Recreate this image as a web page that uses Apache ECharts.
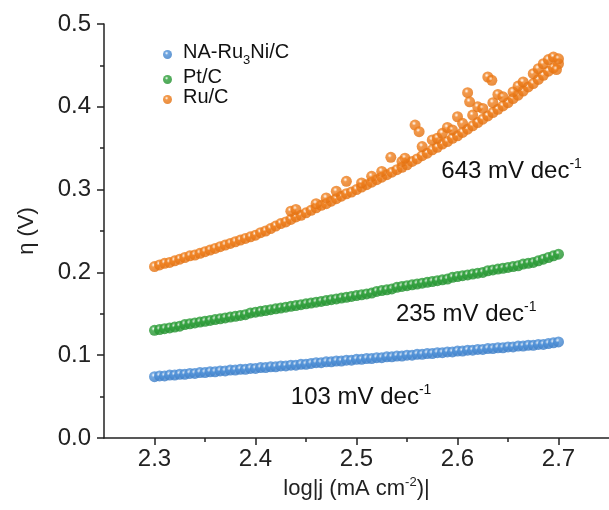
<!DOCTYPE html>
<html>
<head>
<meta charset="utf-8">
<script src="https://cdn.jsdelivr.net/npm/echarts@6/dist/echarts.min.js"></script>
<style>
html,body{margin:0;padding:0;background:#fff;}
#chart{width:609px;height:510px;}
</style>
</head>
<body>
<div id="chart"></div>
<script>
// ---- data ----
var seriesNames = ['NA-Ru3Ni/C', 'Pt/C', 'Ru/C'];
var xTickLabels = [2.3, 2.4, 2.5, 2.6, 2.7];
var xMinorTicks = [2.35, 2.45, 2.55, 2.65];
var slopeLabels = ['643 mV dec', '235 mV dec', '103 mV dec'];

var logJ = [2.300,2.305,2.310,2.315,2.320,2.325,2.330,2.335,2.340,2.345,
            2.350,2.355,2.360,2.365,2.370,2.375,2.380,2.385,2.390,2.395,
            2.400,2.405,2.410,2.415,2.420,2.425,2.430,2.435,2.440,2.445,
            2.450,2.455,2.460,2.465,2.470,2.475,2.480,2.485,2.490,2.495,
            2.500,2.505,2.510,2.515,2.520,2.525,2.530,2.535,2.540,2.545,
            2.550,2.555,2.560,2.565,2.570,2.575,2.580,2.585,2.590,2.595,
            2.600,2.605,2.610,2.615,2.620,2.625,2.630,2.635,2.640,2.645,
            2.650,2.655,2.660,2.665,2.670,2.675,2.680,2.685,2.690,2.695,2.700];

var etaRu3Ni = [0.074,0.075,0.075,0.076,0.076,0.077,0.077,0.078,0.078,0.079,
                0.079,0.080,0.080,0.081,0.081,0.082,0.082,0.083,0.083,0.084,
                0.084,0.085,0.085,0.086,0.086,0.087,0.087,0.088,0.088,0.089,
                0.089,0.090,0.091,0.091,0.092,0.092,0.093,0.093,0.094,0.094,
                0.095,0.095,0.096,0.096,0.097,0.097,0.098,0.098,0.099,0.099,
                0.100,0.100,0.101,0.101,0.102,0.102,0.103,0.103,0.104,0.104,
                0.105,0.105,0.106,0.106,0.107,0.107,0.108,0.108,0.109,0.109,
                0.110,0.110,0.111,0.111,0.112,0.112,0.113,0.113,0.114,0.115,0.116];

var etaPt = [0.130,0.131,0.132,0.133,0.134,0.135,0.137,0.138,0.139,0.140,
             0.141,0.142,0.143,0.144,0.145,0.146,0.147,0.148,0.149,0.151,
             0.152,0.153,0.154,0.155,0.156,0.157,0.158,0.159,0.160,0.161,
             0.162,0.163,0.164,0.165,0.166,0.167,0.168,0.169,0.170,0.171,
             0.172,0.173,0.174,0.175,0.177,0.178,0.179,0.180,0.182,0.183,
             0.184,0.185,0.186,0.187,0.188,0.189,0.190,0.191,0.192,0.194,
             0.195,0.196,0.197,0.198,0.199,0.200,0.202,0.203,0.204,0.205,
             0.206,0.207,0.208,0.210,0.211,0.212,0.214,0.216,0.218,0.220,0.222];

var etaRu = [0.207,0.209,0.211,0.212,0.214,0.216,0.218,0.220,0.221,0.223,
             0.225,0.227,0.229,0.231,0.233,0.235,0.237,0.239,0.241,0.243,
             0.245,0.248,0.250,0.253,0.256,0.259,0.261,0.264,0.267,0.269,
             0.272,0.275,0.278,0.281,0.283,0.286,0.289,0.292,0.295,0.297,
             0.300,0.303,0.306,0.309,0.312,0.315,0.318,0.321,0.324,0.327,
             0.330,0.334,0.337,0.341,0.344,0.348,0.351,0.355,0.358,0.362,
             0.365,0.369,0.373,0.377,0.381,0.385,0.389,0.393,0.397,0.401,
             0.405,0.410,0.414,0.419,0.424,0.428,0.433,0.438,0.443,0.447,0.452];

// scattered Ru/C points above the main trend
var ruScatterX = [2.435,2.440,2.460,2.470,2.480,2.490,2.505,2.515,2.525,2.534,2.545,2.548,
                  2.558,2.562,2.565,2.575,2.580,2.585,2.590,2.595,2.600,2.605,2.610,2.612,
                  2.615,2.620,2.625,2.630,2.634,2.635,2.640,2.645,2.655,2.660,2.665,2.675,
                  2.680,2.685,2.690,2.695,2.698,2.700];
var ruScatterY = [0.274,0.276,0.283,0.290,0.298,0.310,0.308,0.316,0.322,0.339,0.334,0.338,
                  0.378,0.370,0.352,0.360,0.362,0.368,0.375,0.372,0.388,0.380,0.417,0.406,
                  0.390,0.400,0.398,0.436,0.432,0.405,0.415,0.412,0.418,0.425,0.430,0.440,
                  0.446,0.452,0.457,0.460,0.445,0.458];

// ---- chart ----
var FONT = '"Liberation Sans", Arial, sans-serif';
var colors = ['#4f91d8', '#2ea03a', '#f0801e'];
var dark = ['#3a7cc6', '#22902e', '#e2700f'];

function ball(i) {
  return {
    type: 'radial', x: 0.4, y: 0.35, r: 0.65,
    colorStops: [
      {offset: 0, color: '#ffffff'},
      {offset: 0.3, color: colors[i]},
      {offset: 1, color: dark[i]}
    ]
  };
}

function pairs(xs, ys) {
  return xs.map(function (x, i) { return [x, ys[i]]; });
}

var ruData = pairs(logJ, etaRu).concat(pairs(ruScatterX, ruScatterY));
var seriesData = [pairs(logJ, etaRu3Ni), pairs(logJ, etaPt), ruData];

var chart = echarts.init(document.getElementById('chart'), null, {renderer: 'canvas'});

var legendFmt = {
  'NA-Ru3Ni/C': '{a|NA-Ru}{b|3}{c|Ni/C}',
  'Pt/C': '{a|Pt/C}',
  'Ru/C': '{a|Ru/C}'
};

var option = {
  backgroundColor: '#fff',
  animation: false,
  grid: {left: 104, top: 24, bottom: 72, right: -2},
  legend: {
    orient: 'vertical', left: 158, top: 37,
    itemWidth: 9, itemHeight: 9, itemGap: 0,
    icon: 'circle',
    data: seriesNames,
    formatter: function (n) { return legendFmt[n]; },
    textStyle: {
      fontFamily: FONT, fontSize: 20, color: '#111',
      rich: {
        a: {fontFamily: FONT, fontSize: 20, color: '#111', padding: [0, 0, 0, 6], lineHeight: 25, verticalAlign: 'top'},
        b: {fontFamily: FONT, fontSize: 13, color: '#111', verticalAlign: 'bottom', lineHeight: 13},
        c: {fontFamily: FONT, fontSize: 20, color: '#111', lineHeight: 25, verticalAlign: 'top'}
      }
    }
  },
  xAxis: [{
    type: 'value', min: 2.25, max: 2.75, position: 'bottom',
    name: '{a|log|j (mA cm}{s|-2}{a|)|}',
    nameLocation: 'middle', nameGap: 38,
    nameTextStyle: {
      fontFamily: FONT, fontSize: 22, color: '#222',
      rich: {
        a: {fontFamily: FONT, fontSize: 22, color: '#222', lineHeight: 26},
        s: {fontFamily: FONT, fontSize: 13, color: '#222', verticalAlign: 'top', lineHeight: 14}
      }
    },
    axisLine: {show: true, onZero: false, lineStyle: {color: '#222', width: 1.5}},
    axisTick: {show: true, inside: false, length: 7, customValues: xTickLabels, lineStyle: {color: '#222', width: 1.5}},
    axisLabel: {customValues: xTickLabels, fontFamily: FONT, fontSize: 24, color: '#222', margin: 9,
      formatter: function (v) { return v.toFixed(1); }},
    splitLine: {show: false}
  }, {
    type: 'value', min: 2.25, max: 2.75, position: 'bottom',
    axisLine: {show: false},
    axisTick: {show: true, inside: false, length: 4, customValues: xMinorTicks, lineStyle: {color: '#222', width: 1.5}},
    axisLabel: {show: false},
    splitLine: {show: false}
  }],
  yAxis: {
    type: 'value', min: 0, max: 0.5, interval: 0.1,
    name: 'η (V)', nameLocation: 'middle', nameGap: 66,
    nameTextStyle: {fontFamily: FONT, fontSize: 22, color: '#222'},
    axisLine: {show: true, lineStyle: {color: '#222', width: 1.5}},
    axisTick: {show: true, inside: false, length: 7, lineStyle: {color: '#222', width: 1.5}},
    minorTick: {show: true, splitNumber: 2, length: 4, lineStyle: {color: '#222', width: 1.5}},
    axisLabel: {fontFamily: FONT, fontSize: 24, color: '#222', margin: 13,
      formatter: function (v) { return v.toFixed(1); }},
    splitLine: {show: false}
  },
  series: seriesNames.map(function (n, i) {
    return {
      name: n, type: 'scatter', xAxisIndex: 0,
      symbol: 'circle', symbolSize: 11,
      itemStyle: {color: ball(i)},
      data: seriesData[i]
    };
  }),
  graphic: []
};

chart.setOption(option);

// slope annotations placed at data positions through the chart's scale
var annPos = [[2.584, 0.339], [2.539, 0.166], [2.435, 0.066]];
var graphics = slopeLabels.map(function (t, i) {
  var p = chart.convertToPixel({xAxisIndex: 0, yAxisIndex: 0}, annPos[i]);
  return {
    type: 'text', left: p[0], top: p[1],
    style: {
      text: '{a|' + t + '}{s|-1}',
      rich: {
        a: {fontFamily: FONT, fontSize: 24, fill: '#111', lineHeight: 28},
        s: {fontFamily: FONT, fontSize: 14, fill: '#111', verticalAlign: 'top', lineHeight: 16}
      }
    }
  };
});
chart.setOption({graphic: graphics});
</script>
</body>
</html>
